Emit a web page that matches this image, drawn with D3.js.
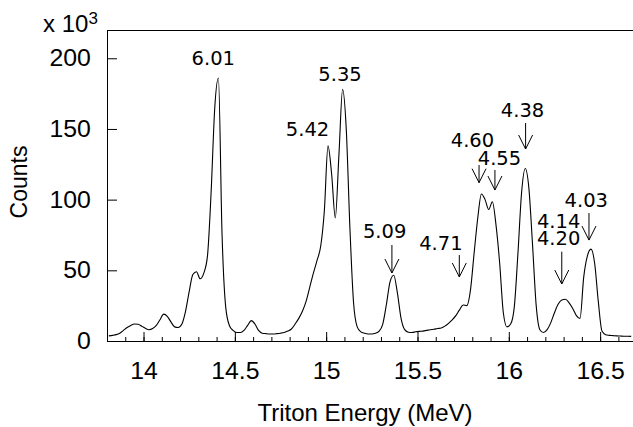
<!DOCTYPE html>
<html>
<head>
<meta charset="utf-8">
<script src="https://cdn.jsdelivr.net/npm/d3@7"></script>
<style>
  html, body { margin: 0; padding: 0; background: #fff; }
  svg { display: block; }
</style>
</head>
<body>
<svg id="chart" width="633" height="427"></svg>
<script>
// ---- Data (bin centres in MeV, counts in units of 10^3) ----
const energies = [
  13.81,13.83,13.85,13.87,13.89,13.91,13.93,13.95,13.97,13.99,
  14.01,14.03,14.05,14.07,14.09,14.11,14.13,14.15,14.17,14.19,
  14.21,14.23,14.25,14.27,14.29,14.31,14.33,14.35,14.37,14.39,
  14.41,14.43,14.45,14.47,14.49,14.51,14.53,14.55,14.57,14.59,
  14.61,14.63,14.65,14.67,14.69,14.71,14.73,14.75,14.77,14.79,
  14.81,14.83,14.85,14.87,14.89,14.91,14.93,14.95,14.97,14.99,
  15.01,15.03,15.05,15.07,15.09,15.11,15.13,15.15,15.17,15.19,
  15.21,15.23,15.25,15.27,15.29,15.31,15.33,15.35,15.37,15.39,
  15.41,15.43,15.45,15.47,15.49,15.51,15.53,15.55,15.57,15.59,
  15.61,15.63,15.65,15.67,15.69,15.71,15.73,15.75,15.77,15.79,
  15.81,15.83,15.85,15.87,15.89,15.91,15.93,15.95,15.97,15.99,
  16.01,16.03,16.05,16.07,16.09,16.11,16.13,16.15,16.17,16.19,
  16.21,16.23,16.25,16.27,16.29,16.31,16.33,16.35,16.37,16.39,
  16.41,16.43,16.45,16.47,16.49,16.51,16.53,16.55,16.57,16.59,
  16.61,16.63,16.65,16.67
];
const counts = [
  3.6,4.0,4.5,5.5,7.5,9.5,11,12,11.8,10.5,
  9,8,8.8,11,15,19,17.5,13.5,10,9.5,
  12,21,35,47,49,44,48,60,105,165,
  186,75,24,11,7.5,6,6,7.5,11,14.4,
  12,7.5,5.5,5.2,5,5,5.2,5.5,6,7,
  8.5,12,16,21,28,38,48,57,67,92,
  138,118,87,132,178,150,80,27,10,6.5,
  5.5,5,5,5.5,7,12,26,42,46.5,34,
  16,8,6.2,6,6.5,6.8,7,7.5,8,8.3,
  8.8,9.2,10.5,12.5,15,18,22,25.5,25,36,
  62,87,104,100,93,98.5,82,55,20,10,
  12,24,62,105,122,108,68,25,8,6,
  8,13,20,26,29,29.5,27,23,18,16,
  45,60,65,55,28,7,4.5,4,3.8,3.6,
  3.5,3.4,3.4,3.3
];

const xTickValues = [14, 14.5, 15, 15.5, 16, 16.5];
const yTickValues = [0, 50, 100, 150, 200];

// Peak annotations: label text lines, label energy / baseline level of last line (10^3 counts),
// and optional arrow energy, arrow top and tip levels.
const annLabels   = [["6.01"],["5.42"],["5.35"],["5.09"],["4.71"],["4.60"],["4.55"],["4.38"],["4.14","4.20"],["4.03"]];
const annLabelE   = [14.382, 14.898, 15.076, 15.320, 15.628, 15.801, 15.949, 16.075, 16.273, 16.424];
const annLabelC   = [195.2, 145.0, 183.9, 72.9, 64.4, 137.5, 124.5, 158.5, 67.9, 94.8];
const annArrowE   = [null, null, null, 15.360, 15.729, 15.837, 15.924, 16.092, 16.290, 16.439];
const annArrowTop = [null, null, null, 67.9, 60.8, 124.5, 121.0, 154.2, 63.2, 90.5];
const annArrowTip = [null, null, null, 48.1, 45.3, 112.0, 106.8, 135.8, 40.3, 71.4];

// ---- Layout ----
const svg = d3.select("#chart");
const L = 107, R = 633, T = 30, B = 341;

const x = d3.scaleLinear().domain([13.8, 16.68]).range([L, R]);
const y = d3.scaleLinear().domain([0, 220]).range([B, T]);

const tickFont = "'Liberation Sans', Arial, sans-serif";
const annFont = "'DejaVu Sans', Verdana, sans-serif";

// Minor x ticks
const gMinor = svg.append("g").attr("transform", `translate(0,${B})`)
  .call(d3.axisBottom(x).tickValues(x.ticks(29)).tickSizeInner(-4).tickSizeOuter(0).tickFormat(""));
gMinor.select(".domain").remove();
gMinor.selectAll("line").attr("stroke", "#000");

// Major x axis
const gx = svg.append("g").attr("transform", `translate(0,${B})`)
  .call(d3.axisBottom(x).tickValues(xTickValues).tickSizeInner(-9).tickSizeOuter(0)
        .tickPadding(22).tickFormat(d => String(d)));
gx.selectAll("text").attr("font-family", tickFont).attr("font-size", 23)
  .attr("fill", "#000").attr("transform", "scale(1.08,1)");
gx.selectAll("line, path").attr("stroke", "#000");
gx.select(".domain").attr("d", `M${L},0.5H${R}`);

// y axis
const gy = svg.append("g").attr("transform", `translate(${L},0)`)
  .call(d3.axisLeft(y).tickValues(yTickValues).tickSizeInner(-10).tickSizeOuter(0)
        .tickPadding(15));
gy.selectAll("text").attr("font-family", tickFont).attr("font-size", 23)
  .attr("fill", "#000").attr("transform", "scale(1.08,1)");
gy.selectAll("line, path").attr("stroke", "#000");

// top frame line
svg.append("line").attr("x1", L).attr("x2", R).attr("y1", T + 0.5).attr("y2", T + 0.5)
  .attr("stroke", "#000");

// exponent label
const exp = svg.append("text").attr("x", 43).attr("y", 32)
  .attr("font-family", tickFont).attr("font-size", 24).attr("fill", "#000");
exp.append("tspan").text("x 10");
exp.append("tspan").attr("font-size", 17).attr("dy", -8).text("3");

// axis titles
svg.append("text").attr("x", 365).attr("y", 421).attr("text-anchor", "middle")
  .attr("font-family", tickFont).attr("font-size", 24).attr("fill", "#000")
  .text("Triton Energy (MeV)");
svg.append("text").attr("transform", "translate(27,182) rotate(-90)")
  .attr("text-anchor", "middle")
  .attr("font-family", tickFont).attr("font-size", 23).attr("fill", "#000")
  .text("Counts");

// spectrum
const pts = energies.map((e, i) => ({ e, c: counts[i] }));
const line = d3.line().x(d => x(d.e)).y(d => y(d.c)).curve(d3.curveMonotoneX);
svg.append("path").datum(pts).attr("d", line)
  .attr("fill", "none").attr("stroke", "#000").attr("stroke-width", 1.1);

// annotations (multi-line labels as one text element with tspans)
const gAnn = svg.append("g");
annLabels.forEach((lines, i) => {
  const n = lines.length;
  const lx = x(annLabelE[i]);
  const txt = gAnn.append("text")
    .attr("x", lx)
    .attr("y", y(annLabelC[i]) - (n - 1) * 17)
    .attr("text-anchor", "middle")
    .attr("font-family", annFont).attr("font-size", 19.5).attr("fill", "#000");
  lines.forEach((t, j) => {
    txt.append("tspan").attr("x", lx).attr("dy", j === 0 ? 0 : 17).text(t);
  });
  if (annArrowE[i] !== null) {
    const ax = x(annArrowE[i]);
    const y0 = y(annArrowTop[i]), y1 = y(annArrowTip[i]);
    gAnn.append("path")
      .attr("d", `M${ax},${y0}V${y1}M${ax - 7},${y1 - 14}L${ax},${y1}L${ax + 7},${y1 - 14}`)
      .attr("fill", "none").attr("stroke", "#000").attr("stroke-width", 1);
  }
});
</script>
</body>
</html>
